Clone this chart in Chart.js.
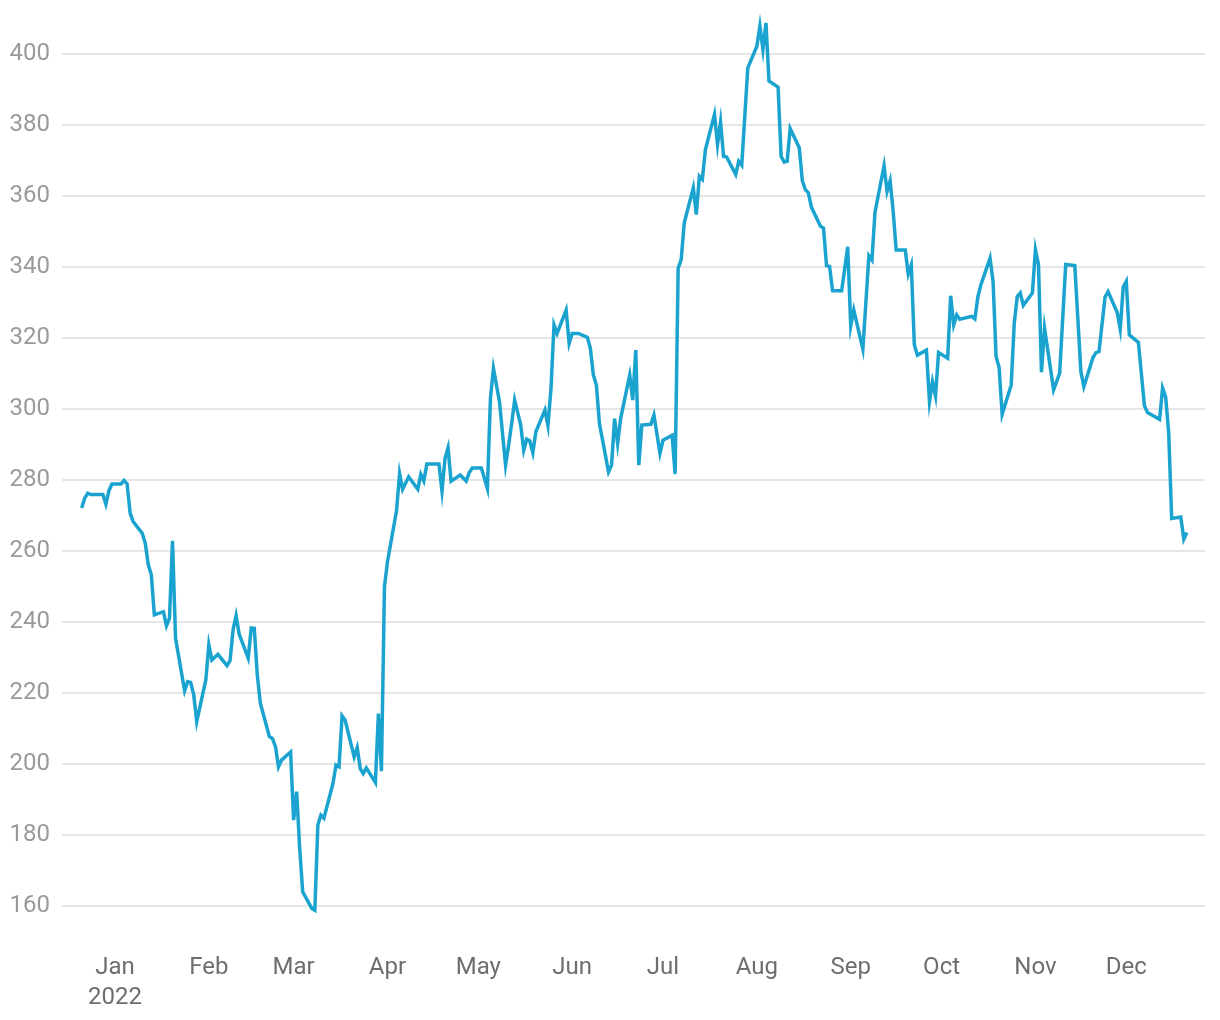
<!DOCTYPE html>
<html>
<head>
<meta charset="utf-8">
<script src="https://cdn.jsdelivr.net/npm/chart.js@4/dist/chart.umd.min.js"></script>
<style>
  body { margin: 0; background: #fff; }
  #wrap { width: 1220px; height: 1020px; position: relative; }
</style>
</head>
<body>
<div id="wrap"><canvas id="priceChart"></canvas></div>
<script>
    // days counted from 1 Jan 2022 (negative = Dec 2021)
    const days = [
        -11, -10, -9, -8, -4, -3, -2, -1, 2, 3, 4, 5, 6, 9, 10, 11, 12, 13, 16, 17, 18, 19, 20,
        23, 24, 25, 26, 27, 30, 31, 32, 34, 37, 38, 39, 40, 41, 44, 45, 46, 47, 48, 51, 52, 53,
        54, 55, 58, 59, 60, 61, 62, 65, 66, 67, 68, 69, 72, 73, 74, 75, 76, 79, 80, 81, 82, 83,
        86, 87, 88, 89, 90, 93, 94, 95, 97, 100, 101, 102, 103, 107, 108, 109, 110, 111, 114,
        116, 117, 118, 121, 123, 124, 125, 127, 129, 130, 131, 132, 134, 135, 136, 137, 138,
        139, 142, 143, 144, 145, 146, 149, 150, 151, 153, 156, 157, 158, 159, 160, 163, 164,
        165, 166, 167, 170, 171, 172, 173, 174, 177, 178, 180, 181, 184, 185, 186, 187, 188,
        191, 192, 193, 194, 195, 198, 199, 200, 201, 202, 205, 206, 207, 209, 212, 213, 214,
        215, 216, 219, 220, 221, 222, 223, 226, 227, 228, 229, 230, 233, 234, 235, 236, 237,
        240, 242, 243, 244, 247, 249, 250, 251, 254, 255, 256, 257, 258, 261, 262, 263, 264,
        265, 268, 269, 270, 271, 272, 275, 276, 277, 278, 279, 283, 284, 285, 286, 289, 290,
        291, 292, 293, 296, 297, 298, 299, 300, 303, 304, 305, 306, 307, 310, 312, 314, 317,
        319, 320, 323, 324, 325, 327, 328, 331, 332, 333, 334, 335, 338, 340, 341, 345, 346,
        347, 348, 349, 352, 353, 354
    ];

    const prices = [
        272.2, 275, 276.4, 276, 276, 273.3, 277.1, 279, 279, 280, 279, 270.8, 268.4, 265.1,
        262.3, 256.2, 253.4, 242.1, 243, 239, 241.2, 263, 235.5,
        220.7, 223.3, 223.1, 219.6, 212, 223.8, 233.7, 229.4, 231, 227.8, 229.2, 237.9, 241.9,
        236.7, 229.9, 238.4, 238.3, 225.2, 217.2, 207.8, 207.3, 205,
        199.3, 201.2, 203.5, 184.3, 192.3, 176.3, 164.1, 159.4, 158.9, 182.9, 185.7, 184.8,
        194.6, 199.8, 199.3, 213.7, 212.5, 202.1, 204.7, 198.8, 197.4, 199,
        194.9, 214.3, 198.1, 250.1, 257.1, 271.6, 281.9, 277.5, 281, 277.5, 281.7, 279.8, 284.6,
        284.6, 277, 286.2, 289.2, 279.8, 281.5,
        279.8, 282.2, 283.5, 283.5, 277.7, 303.1, 311.5, 302.1, 284.3, 289.9, 296, 302.6, 295.6,
        288.5, 291.6, 291.1, 287.8,
        293.7, 299.8, 295.4, 305.9, 323.8, 321.4, 328, 318.6, 321.4, 321.4, 320.3, 317.2, 309.7,
        306.8, 296, 282.4, 284.3,
        297.4, 290.4, 297.4, 309.7, 302.6, 316.7, 284.3, 295.6, 295.8, 298.4, 287.6, 291.3,
        292.7, 281.8, 339.8, 342.2, 352.5,
        362.4, 354.9, 365.7, 364.8, 373.2, 383.1, 374.6, 381, 371.3, 371.1, 366.2, 369.9, 368.8,
        396.2, 402.3, 408, 401.4,
        408.9, 392.5, 390.8, 371.3, 369.7, 369.9, 379.1, 373.7, 364.5, 361.9, 361, 357, 351.6,
        351.1, 340.5, 340.3, 333.4,
        333.4, 345.8, 323.5, 328, 317, 343.3, 342.1, 355.5, 368.6, 361.4, 364.4, 356, 344.9,
        344.9, 338.1, 340.7, 318.2,
        315.3, 316.7, 302.2, 307.8, 303.8, 316, 314.4, 332, 323.8, 326.6, 325.4, 326.2, 325.5,
        331.8, 335.1, 342.6, 336.1,
        314.9, 311.8, 298.6, 306.9, 324.3, 331.8, 332.8, 329.3, 332.8, 345, 340.8, 310.5, 322.9,
        305.5, 310.2, 340.8, 340.5,
        310.7, 306.4, 314.6, 316, 316.3, 331.7, 333.2, 327.3, 322.6, 334.5, 336.1, 321, 318.9,
        301, 299.1, 297.2, 306,
        303.5, 293.5, 269.3, 269.7, 263.4, 265.3
    ];

    // month starts (day of year) and their labels
    const monthDays = [0, 31, 59, 90, 120, 151, 181, 212, 243, 273, 304, 334];
    const monthLabels = [['Jan', '2022'], 'Feb', 'Mar', 'Apr', 'May', 'Jun', 'Jul', 'Aug', 'Sep', 'Oct', 'Nov', 'Dec'];
    const yTicks = [160, 180, 200, 220, 240, 260, 280, 300, 320, 340, 360, 380, 400];

    const points = days.map((d, i) => ({ x: d, y: prices[i] }));

    const ctx = document.getElementById('priceChart').getContext('2d');
    new Chart(ctx, {
        type: 'line',
        data: {
            datasets: [{
                data: points,
                borderColor: '#1ba3d0',
                borderWidth: 3.5,
                pointRadius: 0,
                tension: 0,
                fill: false,
                clip: false
            }]
        },
        options: {
            responsive: true,
            maintainAspectRatio: false,
            animation: false,
            layout: { padding: { top: 4, right: 15, bottom: 9, left: 0 } },
            plugins: {
                legend: { display: false },
                tooltip: { enabled: false }
            },
            scales: {
                x: {
                    type: 'linear',
                    min: -17.5,
                    max: 360,
                    border: { display: false },
                    grid: { display: false, drawTicks: false },
                    afterBuildTicks: scale => {
                        scale.ticks = monthDays.map(v => ({ value: v }));
                    },
                    afterFit: scale => { scale.height = 88; },
                    ticks: {
                        autoSkip: false,
                        maxRotation: 0,
                        padding: 30,
                        color: '#6e6e6e',
                        font: { family: 'Roboto', size: 24, lineHeight: 1.25 },
                        callback: (value, index) => monthLabels[index]
                    }
                },
                y: {
                    min: 155.3,
                    max: 407.9,
                    border: { display: false },
                    grid: { color: '#e6e6e6', lineWidth: 2, drawTicks: false },
                    afterBuildTicks: scale => {
                        scale.ticks = yTicks.map(v => ({ value: v }));
                    },
                    afterFit: scale => { scale.width = 62; },
                    ticks: {
                        padding: 12,
                        color: '#9a9a9a',
                        font: { family: 'Roboto', size: 24 }
                    }
                }
            }
        }
    });
</script>
</body>
</html>
